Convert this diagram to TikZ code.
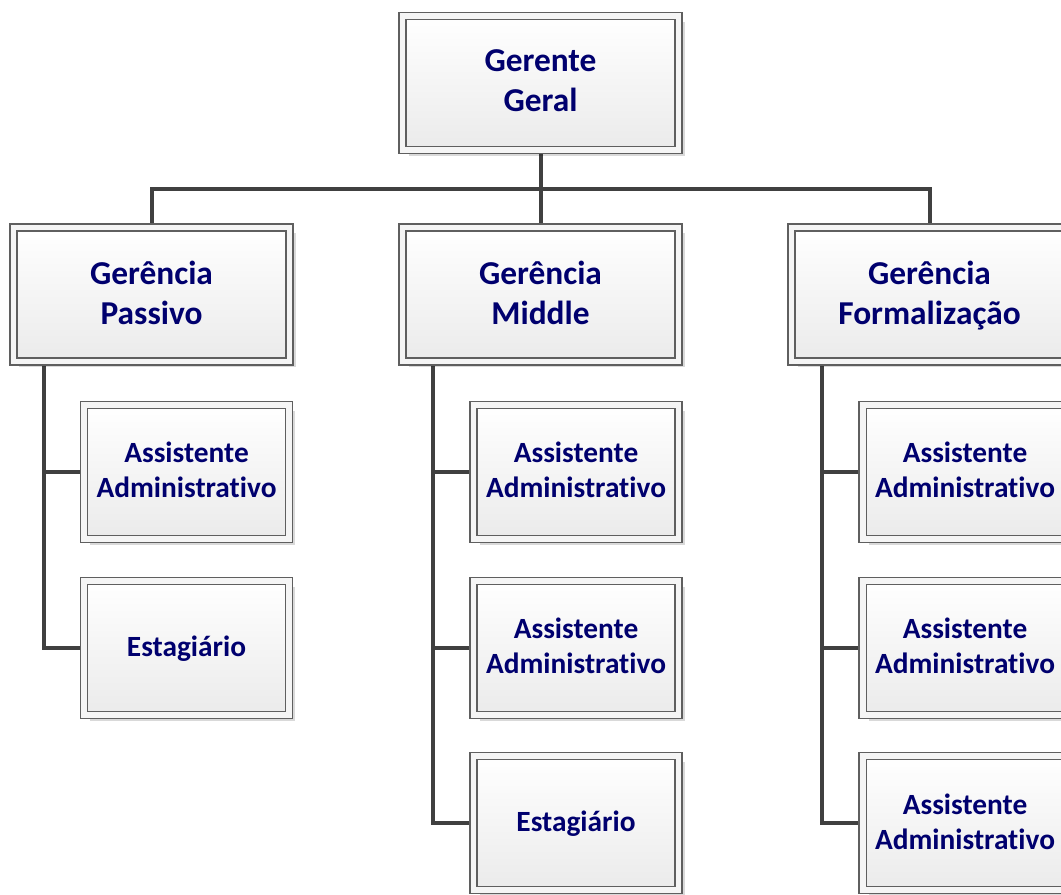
\documentclass[tikz,border=0pt]{standalone}
\usepackage{fontspec}
\setmainfont{Carlito}[Ligatures=NoCommon]
\usepackage{tikz}
\usetikzlibrary{calc,shadows,backgrounds}
\definecolor{navytext}{RGB}{0,0,110}
\definecolor{linkgray}{RGB}{64,64,64}
\definecolor{rimgray}{RGB}{95,95,95}

\tikzset{
  cargo/.style={rectangle, inner sep=0pt, minimum height=2.68cm, draw=rimgray, line width=0.6pt,
    double=white!96!black, double distance=3.4pt, top color=white, bottom color=black!8,
    drop shadow={shadow xshift=0.12cm, shadow yshift=-0.12cm, fill=black, opacity=0.15},
    text=navytext, align=center, text depth=2.2pt},
  chefe/.style={cargo, minimum width=5.52cm, font=\fontsize{19}{22.8}\selectfont\bfseries},
  auxiliar/.style={cargo, minimum width=4.10cm, font=\fontsize{16.7}{19.8}\selectfont\bfseries},
  ligacao/.style={linkgray, line width=0.08cm}
}

\begin{document}
\begin{tikzpicture}
\useasboundingbox (0,0) rectangle (21.22,17.9);
\clip (0,0) rectangle (21.22,17.9);

\node [chefe] (gg) at (10.81,16.246) {Gerente\\Geral};

\node [chefe] (gp) at (3.03,12.01) {Gerência\\Passivo};
\node [chefe] (gm) at (10.81,12.01) {Gerência\\Middle};
\node [chefe] (gf) at (18.59,12.01) {Gerência\\Formalização};

\node [auxiliar] (ap) at (3.73,8.466) {Assistente\\Administrativo};
\node [auxiliar] (ep) at (3.73,4.94) {Estagiário};

\node [auxiliar] (am1) at (11.52,8.466) {Assistente\\Administrativo};
\node [auxiliar] (am2) at (11.52,4.94) {Assistente\\Administrativo};
\node [auxiliar] (em) at (11.52,1.434) {Estagiário};

\node [auxiliar] (af1) at (19.30,8.466) {Assistente\\Administrativo};
\node [auxiliar] (af2) at (19.30,4.94) {Assistente\\Administrativo};
\node [auxiliar] (af3) at (19.30,1.434) {Assistente\\Administrativo};

\begin{scope}[on background layer]
\coordinate (barra) at (0,14.12);
\draw [ligacao] (gg.south) -- (gg.south |- barra);
\draw [ligacao] (gp.north) |- (gf.north |- barra) -- (gf.north);
\draw [ligacao] (gm.north) -- (gm.north |- barra);

\coordinate (tp) at ($(gp.south west)+(0.63,0)$);
\draw [ligacao] (tp) |- (ep.west);
\draw [ligacao] (tp |- ap.west) -- (ap.west);

\coordinate (tm) at ($(gm.south west)+(0.63,0)$);
\draw [ligacao] (tm) |- (em.west);
\draw [ligacao] (tm |- am1.west) -- (am1.west);
\draw [ligacao] (tm |- am2.west) -- (am2.west);

\coordinate (tf) at ($(gf.south west)+(0.63,0)$);
\draw [ligacao] (tf) |- (af3.west);
\draw [ligacao] (tf |- af1.west) -- (af1.west);
\draw [ligacao] (tf |- af2.west) -- (af2.west);
\end{scope}
\end{tikzpicture}
\end{document}
